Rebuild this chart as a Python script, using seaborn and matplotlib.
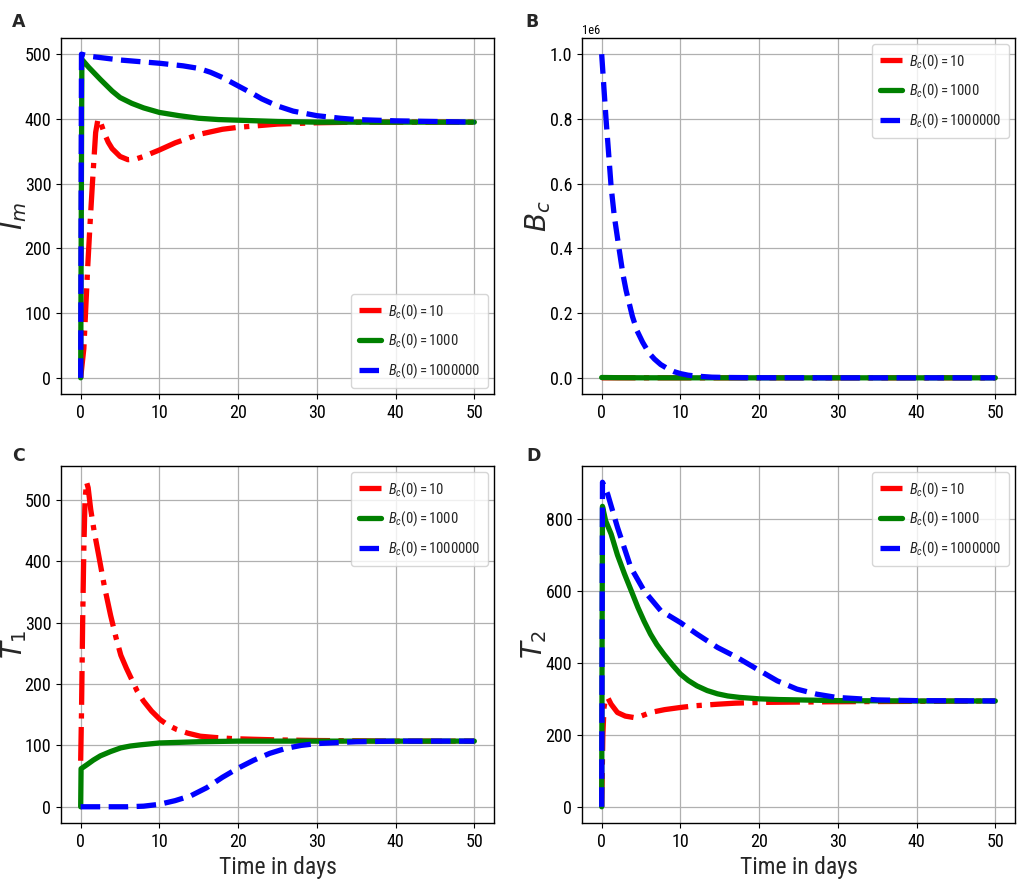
import numpy as np
import pandas as pd
import matplotlib
matplotlib.use("Agg")
import matplotlib.pyplot as plt
import seaborn as sns
from matplotlib import font_manager

# ---------------- data ----------------
labels = [r"$B_c(0) = 10$", r"$B_c(0) = 1000$", r"$B_c(0) = 1000000$"]
colors = ["red", "green", "blue"]
styles = ["-.", "-", "--"]

# Panel A: I_m
A_t_red = [0, 0.4, 0.9, 1.2, 1.5, 1.75, 1.9, 2.2, 2.6, 3.0, 3.5, 4.0, 5.0, 6.0, 7.0, 8.0, 10, 12, 15, 18, 20, 25, 30, 35, 40, 50]
A_v_red = [0, 45, 173, 240, 302, 350, 379, 400, 392, 378, 364, 354, 342, 337, 338, 342, 352, 363, 376, 384, 387, 392, 394, 395, 395, 395]
A_t_green = [0, 0.15, 1, 2.5, 4, 5, 6.5, 8, 10, 12.5, 15, 17.5, 20, 25, 30, 40, 50]
A_v_green = [0, 492, 480, 461, 443, 433, 424, 417, 410, 405, 401, 399, 398, 396, 395, 395, 395]
A_t_blue = [0, 0.1, 1, 5, 10, 13, 15, 16.5, 18, 20, 22, 23, 25, 27, 30, 33, 35, 40, 45, 50]
A_v_blue = [0, 500, 497, 491, 486, 482, 478, 472, 464, 451, 438, 431, 420, 412, 405, 401, 399, 397, 396, 395]

# Panel B: B_c
B_t_red = [0, 2, 5, 10, 20, 50]
B_v_red = [10, 3, 1, 0, 0, 0]
B_t_green = [0, 2, 5, 10, 20, 50]
B_v_green = [1000, 400, 100, 10, 0, 0]
B_t_blue = [0, 0.3, 0.55, 0.8, 1.2, 1.6, 2.2, 2.7, 3.1, 3.5, 3.9, 4.5, 5.2, 6.0, 6.7, 7.5, 8.4, 9.2, 10, 11, 12.2, 14, 16, 20, 30, 40, 50]
B_v_blue = [1.0e6, 0.89e6, 0.80e6, 0.72e6, 0.59e6, 0.50e6, 0.40e6, 0.32e6, 0.27e6, 0.23e6, 0.19e6, 0.145e6, 0.11e6, 0.077e6, 0.058e6, 0.041e6, 0.028e6, 0.019e6, 0.013e6, 0.008e6, 0.005e6, 0.002e6, 0.001e6, 0.0003e6, 0, 0, 0]

# Panel C: T_1
C_t_red = [0, 0.1, 0.25, 0.4, 0.55, 0.75, 0.95, 1.27, 1.7, 2.3, 3.0, 3.8, 4.5, 5.1, 5.8, 6.5, 7.2, 8.0, 9.0, 10.1, 11.1, 12.2, 13.6, 15.2, 17, 19.4, 22, 25, 30, 40, 50]
C_v_red = [75, 150, 300, 420, 500, 529, 520, 485, 450, 409, 360, 312, 275, 247, 226, 207, 188, 172, 156, 142, 133, 126, 120, 115, 113, 111, 110, 109, 108, 107, 107]
C_t_green = [0, 0.05, 0.84, 1.6, 2.5, 3.8, 5.1, 6.3, 7.6, 10, 12.5, 15, 20, 30, 40, 50]
C_v_green = [0, 62, 69, 76, 83, 90, 96, 99, 101, 104, 105, 106, 107, 107, 107, 107]
C_t_blue = [0, 2, 4, 6, 8, 10, 12, 14, 16, 18, 20, 22, 24, 26, 28, 30, 35, 40, 50]
C_v_blue = [0, 0, 0, 0, 1, 4, 10, 18, 31, 48, 63, 76, 87, 95, 100, 103, 106, 107, 107]

# Panel D: T_2
D_t_red = [0, 0.15, 0.3, 0.5, 0.76, 1.2, 2.0, 3.0, 4.1, 5.0, 6.2, 8.0, 10, 12, 14.7, 17, 20, 25, 30, 40, 50]
D_v_red = [0, 200, 276, 300, 304, 285, 262, 252, 248, 252, 262, 270, 276, 281, 285, 288, 290, 291, 292, 293, 294]
D_t_green = [0, 0.1, 0.5, 1.2, 2.0, 2.9, 3.8, 4.6, 5.4, 6.2, 7.0, 7.9, 9.0, 10, 11, 12.1, 13.4, 14.7, 16, 17.5, 20, 22.5, 25, 30, 40, 50]
D_v_green = [0, 835, 795, 758, 700, 647, 598, 554, 515, 480, 451, 424, 394, 369, 351, 336, 323, 314, 308, 304, 300, 298, 297, 295, 294, 294]
D_t_blue = [0, 0.1, 0.76, 2.0, 3.7, 5.4, 7.5, 10, 12.1, 14.7, 17.2, 19.7, 22.3, 24.8, 27.3, 29.8, 35, 40, 50]
D_v_blue = [0, 902, 869, 777, 665, 600, 545, 512, 480, 443, 415, 383, 350, 327, 313, 304, 297, 295, 294]

xticks = [0, 10, 20, 30, 40, 50]

panels = [
    ("A", r"$I_m$", [(A_t_red, A_v_red), (A_t_green, A_v_green), (A_t_blue, A_v_blue)], "lower right", None),
    ("B", r"$B_c$", [(B_t_red, B_v_red), (B_t_green, B_v_green), (B_t_blue, B_v_blue)], "upper right", None),
    ("C", r"$T_1$", [(C_t_red, C_v_red), (C_t_green, C_v_green), (C_t_blue, C_v_blue)], "upper right", "Time in days"),
    ("D", r"$T_2$", [(D_t_red, D_v_red), (D_t_green, D_v_green), (D_t_blue, D_v_blue)], "upper right", "Time in days"),
]

# ---------------- style ----------------
sns.set_theme(style="ticks")
installed = {f.name for f in font_manager.fontManager.ttflist}
prefs = ["Liberation Sans Narrow", "Roboto Condensed", "Open Sans Condensed", "PT Sans Narrow",
         "Archivo Narrow", "Arimo", "Fira Sans Condensed", "IBM Plex Sans Condensed",
         "Encode Sans Condensed", "Asap Condensed", "Barlow Semi Condensed"]
narrow = next((p for p in prefs if p in installed), "DejaVu Sans")
plt.rcParams["font.family"] = [narrow, "DejaVu Sans"]
if narrow != "DejaVu Sans":
    plt.rcParams["mathtext.fontset"] = "custom"
    plt.rcParams["mathtext.rm"] = narrow
    plt.rcParams["mathtext.it"] = narrow + ":italic"
    plt.rcParams["mathtext.bf"] = narrow + ":bold"
plt.rcParams.update({
    "axes.edgecolor": "black",
    "axes.linewidth": 1.0,
    "xtick.color": "black",
    "ytick.color": "black",
    "xtick.major.size": 3.5,
    "ytick.major.size": 3.5,
    "xtick.major.width": 0.8,
    "ytick.major.width": 0.8,
    "grid.color": "#b0b0b0",
    "grid.linewidth": 0.9,
})

fig = plt.figure(figsize=(10.21, 8.91), dpi=100)
W, H = 1021.0, 891.0
rects = {
    "A": (61, 38, 494, 394),
    "B": (582, 38, 1015, 394),
    "C": (61, 466, 494, 823),
    "D": (582, 466, 1015, 823),
}
letter_pos = {"A": (12, 27), "B": (525, 27), "C": (12, 461), "D": (526, 461)}
ylabel_x = {"A": -0.074, "B": -0.067, "C": -0.074, "D": -0.076}

for letter, ylab, series, loc, xlab in panels:
    l, t, r, b = rects[letter]
    ax = fig.add_axes([l / W, 1 - b / H, (r - l) / W, (b - t) / H])
    for (tt, vv), c, ls, lab in zip(series, colors, styles, labels):
        sns.lineplot(x=tt, y=vv, ax=ax, color=c, linestyle=ls, linewidth=3.8,
                     label=lab, sort=False, estimator=None)
    ax.grid(True)
    ax.set_xticks(xticks)
    ax.tick_params(labelsize=13)
    ax.set_ylabel(ylab, fontsize=20, math_fontfamily="dejavusans")
    ax.yaxis.set_label_coords(ylabel_x[letter], 0.5)
    if xlab:
        ax.set_xlabel(xlab, fontsize=17, labelpad=4)
    else:
        ax.set_xlabel("")
    for sp in ax.spines.values():
        sp.set_visible(True)
        sp.set_color("black")
    if letter == "B":
        ax.ticklabel_format(axis="y", style="sci", scilimits=(0, 0), useMathText=False)
        ax.yaxis.get_offset_text().set_fontsize(9)
        ax.set_yticks([0, 0.2e6, 0.4e6, 0.6e6, 0.8e6, 1.0e6])
    leg = ax.legend(loc=loc, fontsize=10.5, handlelength=1.45, labelspacing=0.75,
                    framealpha=0.8, borderpad=0.55, handletextpad=0.5,
                    borderaxespad=0.4)
    lx, ly = letter_pos[letter]
    fig.text(lx / W, 1 - ly / H, letter,
             fontsize=12.5, fontweight="bold", family="DejaVu Sans", va="baseline")

fig.savefig("out.png", dpi=100)
